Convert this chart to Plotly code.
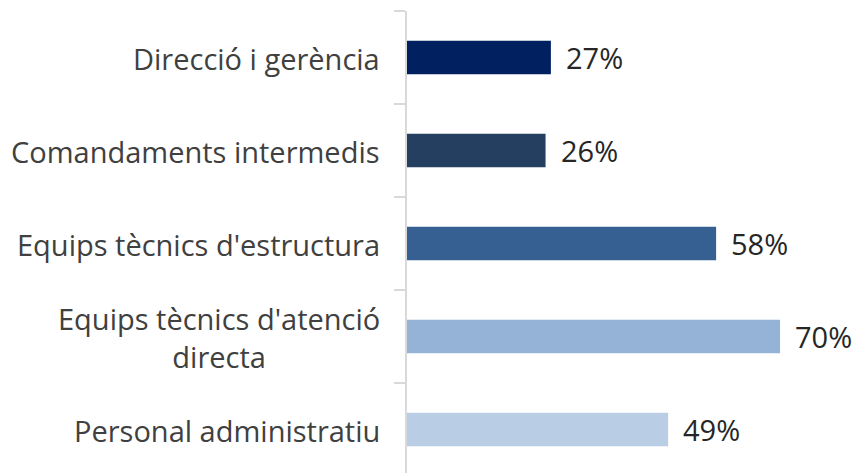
import plotly.graph_objects as go

categories = ["Direcció i gerència", "Comandaments intermedis", "Equips tècnics d'estructura",
              "Equips tècnics d'atenció<br>directa", "Personal administratiu"]
values = [27, 26, 58, 70, 49]
value_labels = ["27%", "26%", "58%", "70%", "49%"]
colors = ["#002060", "#243F60", "#376092", "#95B3D7", "#B9CDE5"]

FONT = "Open Sans"
SIZE = 29
idx = list(range(len(categories)))

fig = go.Figure()
fig.add_trace(go.Bar(
    x=values, y=idx, orientation="h",
    marker=dict(color=colors, line=dict(width=0)),
    width=0.36, hoverinfo="skip",
))

annotations = []
for i, (c, v, lab) in enumerate(zip(categories, values, value_labels)):
    annotations.append(dict(x=0, y=i, xref="x", yref="y", text=c, showarrow=False,
                            xanchor="right", yanchor="middle", align="center",
                            xshift=-26, yshift=-1, borderpad=0,
                            font=dict(family=FONT, size=SIZE, color="#404040")))
    annotations.append(dict(x=v, y=i, xref="x", yref="y", text=lab, showarrow=False,
                            xanchor="left", yanchor="middle", xshift=13,
                            font=dict(family=FONT, size=SIZE, color="#262626")))

fig.update_layout(
    width=863, height=473,
    margin=dict(l=399, r=11, t=3, b=0),
    paper_bgcolor="white", plot_bgcolor="white",
    showlegend=False,
    annotations=annotations,
    xaxis=dict(range=[0, 85], visible=False, fixedrange=True),
    yaxis=dict(range=[4.554, -0.5], tickmode="array",
               tickvals=[i - 0.5 for i in idx] + [len(idx) - 0.5],
               ticktext=["" for _ in range(len(idx) + 1)],
               ticks="outside", ticklen=11, tickwidth=2, tickcolor="#D9D9D9",
               showline=True, linecolor="#D9D9D9", linewidth=2,
               showgrid=False, zeroline=False, fixedrange=True),
)

fig.write_html("out.html")
